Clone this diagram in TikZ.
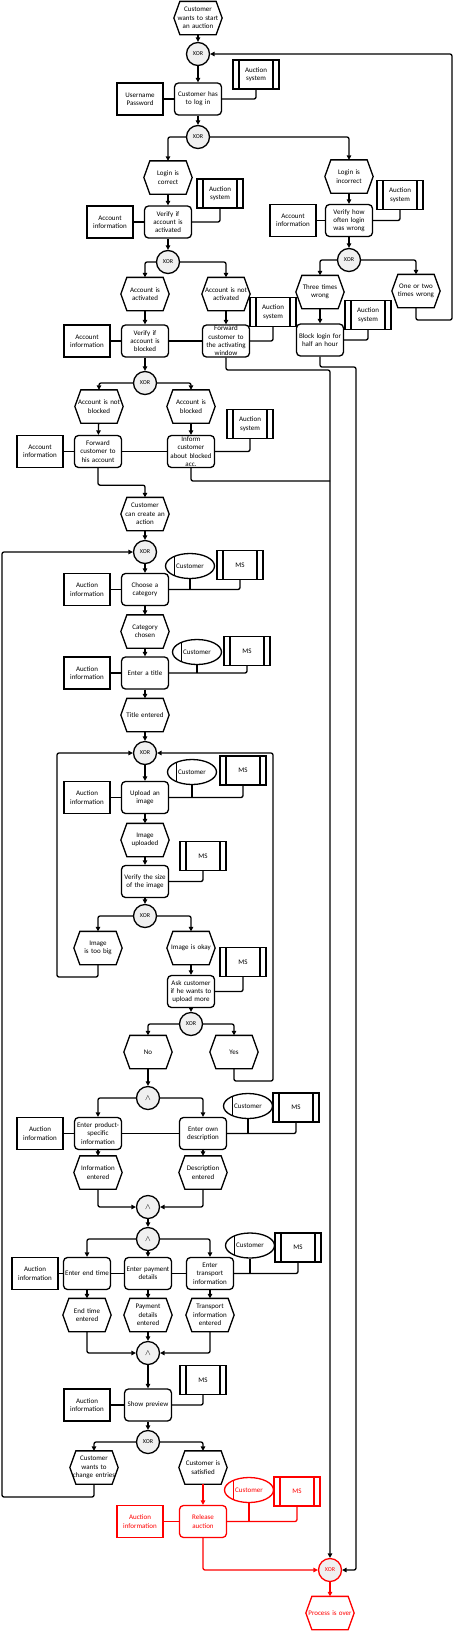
\documentclass[tikz,border=0pt]{standalone}
\usepackage{fontspec}
\setmainfont{Carlito}
\usetikzlibrary{arrows.meta,calc,positioning,shapes.geometric}
\tikzset{
    mybox/.style={line width=1.3pt,align=center,inner sep=0.5pt,text width=45pt,minimum width=47pt,minimum height=32pt},
    myfunc/.style={mybox,draw,rounded corners=4pt},
    myinfo/.style={mybox,draw,minimum width=46pt},
    myevent/.style={mybox,text=#1,append after command={\pgfextra{%
        \draw[line width=1.3pt,draw=#1] ([xshift=6pt]\tikzlastnode.north west)--([xshift=-6pt]\tikzlastnode.north east)--(\tikzlastnode.east)
            --([xshift=-6pt]\tikzlastnode.south east)--([xshift=6pt]\tikzlastnode.south west)--(\tikzlastnode.west)--cycle;}}},
    myevent/.default=black,
    mysys/.style={draw,line width=1.3pt,align=center,inner sep=0.5pt,text width=32pt,minimum width=46pt,minimum height=29pt,
        path picture={\draw[line width=1.1pt] ([xshift=6pt]path picture bounding box.north west)--([xshift=6pt]path picture bounding box.south west)
            ([xshift=-6pt]path picture bounding box.north east)--([xshift=-6pt]path picture bounding box.south east);}},
    myorg/.style={draw,ellipse,line width=1.3pt,inner sep=0pt,minimum width=49pt,minimum height=25pt,
        path picture={\draw[line width=1.1pt] ([xshift=9pt]path picture bounding box.north west)--([xshift=9pt]path picture bounding box.south west);}},
    myxor/.style={draw,circle,fill=gray!12,line width=1.3pt,inner sep=0pt,minimum size=23pt,font=\fontsize{6}{7}\selectfont},
    myand/.style={myxor,font=\fontsize{8}{9}\selectfont},
    myline/.style={line width=1.3pt,rounded corners=2pt},
    myarrow/.style={myline,-{Triangle[length=4.5pt,width=4.5pt]}},
    every node/.style={font=\fontsize{7}{8.3}\selectfont}
}
\begin{document}
\begin{tikzpicture}[x=1pt,y=-1pt]
\useasboundingbox (0,0) rectangle (454,1631);
% login
\node[myevent] (s0) at (198,18) {Customer\\wants to start\\an auction};
\node[myxor] (x1) at (198,54) {XOR};
\node[myfunc] (f1) at (198,99) {Customer has\\to log in};
\node[myinfo] (i1) at (140,99) {Username\\Password};
\node[mysys] (y1) at (256,74.5) {Auction\\system};
\node[myxor] (x2) at (198,137) {XOR};
\node[myevent] (e1) at (168,177.5) {Login is\\correct};
\node[myevent] (e2) at (349,176.5) {Login is\\incorrect};
\node[myfunc] (f2) at (168,222) {Verify if\\account is\\activated};
\node[myinfo] (i2) at (110,222) {Account\\information};
\node[mysys] (y2) at (220,193.5) {Auction\\system};
\node[myfunc] (f3) at (349,220.5) {Verify how\\often login\\was wrong};
\node[myinfo] (i3) at (293,220.5) {Account\\information};
\node[mysys] (y3) at (400,195) {Auction\\system};
\node[myxor] (x3) at (168,262) {XOR};
\node[myxor] (x4) at (349,260) {XOR};
\node[myevent] (e3) at (145,294) {Account is\\activated};
\node[myevent] (e4) at (226,294) {Account is not\\activated};
\node[myevent] (e5) at (320,292) {Three times\\wrong};
\node[myevent] (e6) at (416,291) {One or two\\times wrong};
\node[myfunc] (f4) at (145,341) {Verify if\\account is\\blocked};
\node[myinfo] (i4) at (87,341) {Account\\information};
\node[myfunc] (f5) at (226,341) {Forward\\customer to\\the activating\\window};
\node[mysys] (y4) at (273,312) {Auction\\system};
\node[myfunc] (f6) at (320,340) {Block login for\\half an hour};
\node[mysys] (y5) at (368,315) {Auction\\system};
\node[myxor] (x5) at (145,383) {XOR};
\node[myevent] (e7) at (99,406.5) {Account is not\\blocked};
\node[myevent] (e8) at (191,406.5) {Account is\\blocked};
\node[myfunc] (f7) at (98,451.5) {Forward\\customer to\\his account};
\node[myinfo] (i5) at (40,451.5) {Account\\information};
\node[myfunc] (f8) at (191,451.5) {Inform\\customer\\about blocked\\acc.};
\node[mysys] (y6) at (250,424) {Auction\\system};
\node[myevent] (e9) at (145,514) {Customer\\can create an\\action};
% auction data
\node[myxor] (x6) at (145,552) {XOR};
\node[myfunc] (f9) at (145,589.5) {Choose a\\category};
\node[myinfo] (i6) at (87,589.5) {Auction\\information};
\node[myorg] (o1) at (190,566) {Customer};
\node[mysys] (y7) at (240,565) {MS};
\node[myevent] (e10) at (145,631.5) {Category\\chosen};
\node[myfunc] (f10) at (145,673) {Enter a title};
\node[myinfo] (i7) at (87,673) {Auction\\information};
\node[myorg] (o2) at (197,652) {Customer};
\node[mysys] (y8) at (247,651) {MS};
\node[myevent] (e11) at (145,715) {Title entered};
\node[myxor] (x7) at (145,753) {XOR};
\node[myfunc] (f11) at (145,797.5) {Upload an\\image};
\node[myinfo] (i8) at (87,797.5) {Auction\\information};
\node[myorg] (o3) at (192,772) {Customer};
\node[mysys] (y9) at (243,770.5) {MS};
\node[myevent] (e12) at (145,840) {Image\\uploaded};
\node[myfunc] (f12) at (145,881.5) {Verify the size\\of the image};
\node[mysys] (y10) at (203,856) {MS};
\node[myxor] (x8) at (145,916) {XOR};
\node[myevent] (e13) at (98,948) {Image\\is too big};
\node[myevent] (e14) at (191,948) {Image is okay};
\node[mysys] (y11) at (243,962) {MS};
\node[myfunc] (f13) at (191,991.5) {Ask customer\\if he wants to\\upload more};
\node[myxor] (x9) at (191,1024) {XOR};
\node[myevent] (e15) at (148,1052) {No};
\node[myevent] (e16) at (234,1052) {Yes};
\node[myand] (a1) at (148,1098) {$\wedge$};
\node[myfunc] (f14) at (98,1133.5) {Enter product-\\specific\\information};
\node[myinfo] (i9) at (40,1133.5) {Auction\\information};
\node[myfunc] (f15) at (203,1133.5) {Enter own\\description};
\node[myorg] (o4) at (248,1106) {Customer};
\node[mysys] (y12) at (296,1107.5) {MS};
\node[myevent] (e17) at (98,1172.5) {Information\\entered};
\node[myevent] (e18) at (203,1172.5) {Description\\entered};
\node[myand] (a2) at (148,1207) {$\wedge$};
\node[myand] (a3) at (148,1239) {$\wedge$};
\node[myfunc] (f16) at (87,1273.5) {Enter end time};
\node[myinfo] (i10) at (35,1273.5) {Auction\\information};
\node[myfunc] (f17) at (148,1273.5) {Enter payment\\details};
\node[myfunc] (f18) at (210,1273.5) {Enter\\transport\\information};
\node[myorg] (o5) at (250,1245.5) {Customer};
\node[mysys] (y13) at (298,1247.5) {MS};
\node[myevent] (e19) at (87,1315) {End time\\entered};
\node[myevent] (e20) at (148,1315) {Payment\\details\\entered};
\node[myevent] (e21) at (210,1315) {Transport\\information\\entered};
\node[myand] (a4) at (148,1353) {$\wedge$};
\node[myfunc] (f19) at (148,1405) {Show preview};
\node[myinfo] (i11) at (87,1405) {Auction\\information};
\node[mysys] (y14) at (203,1380) {MS};
\node[myxor] (x10) at (148,1442) {XOR};
\node[myevent] (e22) at (94,1467.5) {Customer\\wants to\\change entries};
\node[myevent] (e23) at (203,1467.5) {Customer is\\satisfied};
% release (red)
\node[myfunc,red] (f20) at (203,1521.5) {Release\\auction};
\node[myinfo,red] (i12) at (140,1521.5) {Auction\\information};
\node[myorg,red] (o6) at (249,1490) {Customer};
\node[mysys,red] (y15) at (297,1491.5) {MS};
\node[myxor,draw=red,text=red] (x11) at (330,1570) {XOR};
\node[myevent=red] (e24) at (330,1613) {Process is over};
\coordinate (cR1) at (452,320);
\coordinate (cF) at (330,370);
\coordinate (cB) at (356,367);
\coordinate (cM) at (330,481);
\coordinate (cL1) at (2,1497);
\coordinate (cL2) at (57,977);
\coordinate (cR2) at (273,1081);
% connectors
\draw[myarrow] (s0) -- (x1);
\draw[myarrow] (x1) -- (f1);
\draw[myline] (i1) -- (f1);
\draw[myline] (f1.east) -| (y1.south);
\draw[myarrow] (f1) -- (x2);
\draw[myarrow] (x2) -| (e1.north);
\draw[myarrow] (x2) -| (e2.north);
\draw[myarrow] (e1) -- (f2);
\draw[myline] (i2) -- (f2);
\draw[myline] (f2.east) -| (y2.south);
\draw[myarrow] (e2) -- (f3);
\draw[myline] (i3) -- (f3);
\draw[myline] (f3.east) -| (y3.south);
\draw[myarrow] (f2) -- (x3);
\draw[myarrow] (f3) -- (x4);
\draw[myarrow] (x3) -| (e3.north);
\draw[myarrow] (x3) -| (e4.north);
\draw[myarrow] (x4) -| (e5.north);
\draw[myarrow] (x4) -| (e6.north);
\draw[myarrow] (e3) -- (f4);
\draw[myline] (i4) -- (f4);
\draw[myline] (f4) -- (f5);
\draw[myarrow] (e4) -- (f5);
\draw[myline] (f5.east) -| (y4.south);
\draw[myarrow] (e5) -- (f6);
\draw[myline] (f6.east) -| (y5.south);
\draw[myarrow] (e6.south) |- (cR1) |- (x1.east);
\draw[myarrow] (f4) -- (x5);
\draw[myarrow] (x5) -| (e7.north);
\draw[myarrow] (x5) -| (e8.north);
\draw[myarrow] (e7) -- (f7);
\draw[myline] (i5) -- (f7);
\draw[myline] (f7) -- (f8);
\draw[myarrow] (e8) -- (f8);
\draw[myline] (f8.east) -| (y6.south);
\draw[myarrow] (f7.south) -- ++(0,17) -| (e9.north);
\draw[myarrow] (e9) -- (x6);
\draw[myarrow] (f5.south) |- (cF) -- (x11.north);
\draw[myarrow] (f6.south) |- (cB) |- (x11.east);
\draw[myline] (f8.south) |- (cM);
% category, title, image
\draw[myarrow] (x6) -- (f9);
\draw[myline] (i6) -- (f9);
\draw[myline] (f9.east) -| (y7.south);
\draw[myline] (o1.south) -- (o1.south |- f9.east);
\draw[myarrow] (f9) -- (e10);
\draw[myarrow] (e10) -- (f10);
\draw[myline] (i7) -- (f10);
\draw[myline] (f10.east) -| (y8.south);
\draw[myline] (o2.south) -- (o2.south |- f10.east);
\draw[myarrow] (f10) -- (e11);
\draw[myarrow] (e11) -- (x7);
\draw[myarrow] (x7) -- (f11);
\draw[myline] (i8) -- (f11);
\draw[myline] (f11.east) -| (y9.south);
\draw[myline] (o3.south) -- (o3.south |- f11.east);
\draw[myarrow] (f11) -- (e12);
\draw[myarrow] (e12) -- (f12);
\draw[myline] (f12.east) -| (y10.south);
\draw[myarrow] (f12) -- (x8);
\draw[myarrow] (x8) -| (e13.north);
\draw[myarrow] (x8) -| (e14.north);
\draw[myarrow] (e13.south) |- (cL2) |- (x7.west);
\draw[myarrow] (e14) -- (f13);
\draw[myline] (f13.east) -| (y11.south);
\draw[myarrow] (f13) -- (x9);
\draw[myarrow] (x9) -| (e15.north);
\draw[myarrow] (x9) -| (e16.north);
\draw[myarrow] (e16.south) |- (cR2) |- (x7.east);
% product data
\draw[myarrow] (e15) -- (a1);
\draw[myarrow] (a1) -| (f14.north);
\draw[myarrow] (a1) -| (f15.north);
\draw[myline] (i9) -- (f14);
\draw[myline] (f14) -- (f15);
\draw[myline] (f15.east) -| (y12.south);
\draw[myline] (o4.south) -- (o4.south |- f15.east);
\draw[myarrow] (f14) -- (e17);
\draw[myarrow] (f15) -- (e18);
\draw[myarrow] (e17.south) |- (a2.west);
\draw[myarrow] (e18.south) |- (a2.east);
\draw[myarrow] (a2) -- (a3);
\draw[myarrow] (a3) -| (f16.north);
\draw[myarrow] (a3) -- (f17);
\draw[myarrow] (a3) -| (f18.north);
\draw[myline] (i10) -- (f16);
\draw[myline] (f16) -- (f17);
\draw[myline] (f17) -- (f18);
\draw[myline] (f18.east) -| (y13.south);
\draw[myline] (o5.south) -- (o5.south |- f18.east);
\draw[myarrow] (f16) -- (e19);
\draw[myarrow] (f17) -- (e20);
\draw[myarrow] (f18) -- (e21);
\draw[myarrow] (e19.south) |- (a4.west);
\draw[myarrow] (e20) -- (a4);
\draw[myarrow] (e21.south) |- (a4.east);
\draw[myarrow] (a4) -- (f19);
\draw[myline] (i11) -- (f19);
\draw[myline] (f19.east) -| (y14.south);
\draw[myarrow] (f19) -- (x10);
\draw[myarrow] (x10) -| (e22.north);
\draw[myarrow] (x10) -| (e23.north);
\draw[myarrow] (e22.south) |- (cL1) |- (x6.west);
% release
\draw[myarrow,red] (e23) -- (f20);
\draw[myline,red] (i12) -- (f20);
\draw[myline,red] (f20.east) -| (y15.south);
\draw[myline,red] (o6.south) -- (o6.south |- f20.east);
\draw[myarrow,red] (f20.south) |- (x11.west);
\draw[myarrow,red] (x11) -- (e24);
\end{tikzpicture}
\end{document}
